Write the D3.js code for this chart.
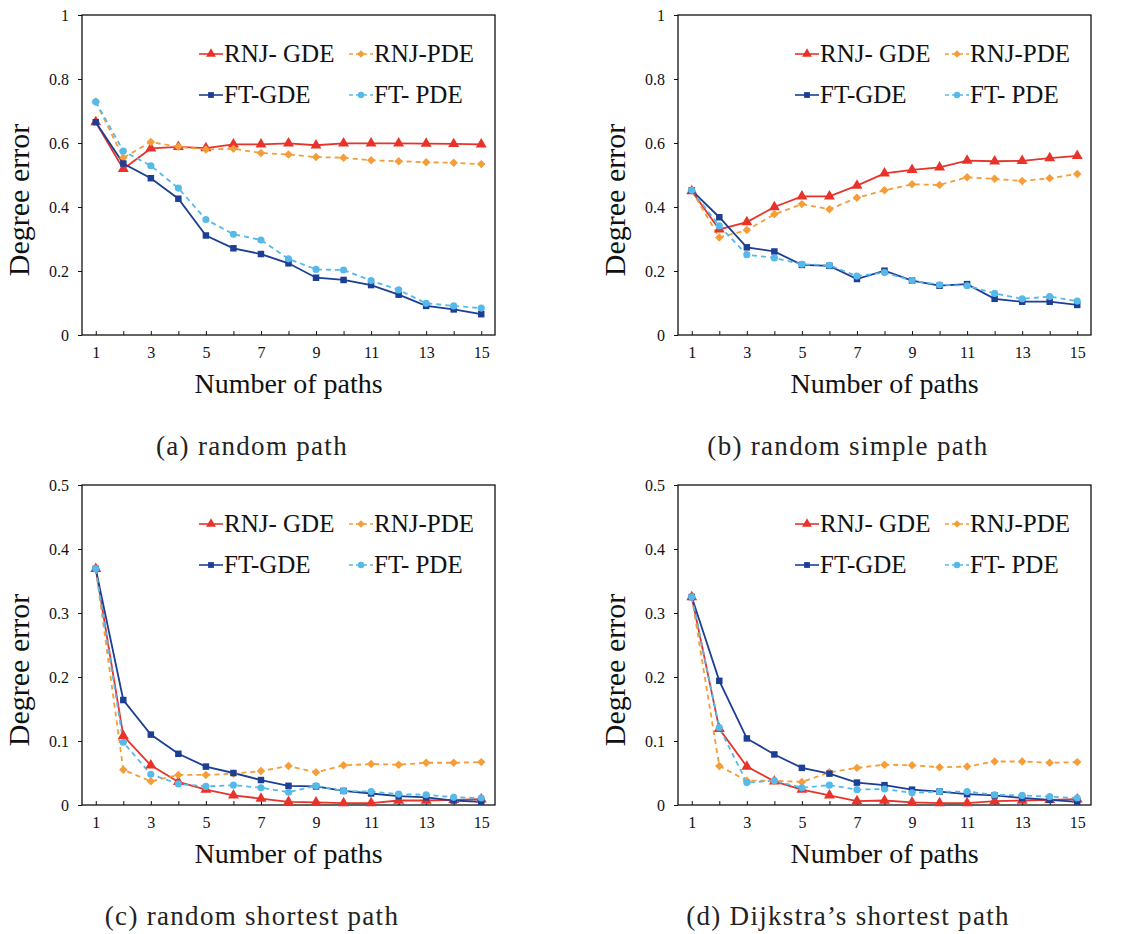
<html lang="en">
<head>
    <meta charset="utf-8">
    <title>Degree error vs number of paths</title>
    <script src="https://d3js.org/d3.v7.min.js"></script>
    <style>
        body {
            margin: 0;
            background: white;
        }

        svg {
            display: block;
        }

        svg text {
            font-family: "Liberation Serif", "Times New Roman", Times, "DejaVu Serif", serif !important;
        }

        .tick text {
            font-size: 16px;
            fill: #111;
        }
    </style>
</head>
<body>
    <div id="chart"></div>
    <script type="text/javascript">
        // number of paths (x axis)
        var paths = [1, 2, 3, 4, 5, 6, 7, 8, 9, 10, 11, 12, 13, 14, 15];
        var xTicks = [1, 3, 5, 7, 9, 11, 13, 15];

        var seriesNames = ["RNJ- GDE", "RNJ-PDE", "FT-GDE", "FT- PDE"];

        // (a) random path
        var aRnjGde = [0.665, 0.519, 0.583, 0.588, 0.584, 0.596, 0.596, 0.599, 0.593, 0.599, 0.599, 0.599, 0.598, 0.597, 0.596];
        var aRnjPde = [0.729, 0.554, 0.603, 0.588, 0.580, 0.582, 0.569, 0.564, 0.556, 0.554, 0.546, 0.543, 0.540, 0.538, 0.534];
        var aFtGde = [0.665, 0.536, 0.490, 0.426, 0.311, 0.271, 0.253, 0.224, 0.179, 0.172, 0.156, 0.126, 0.091, 0.080, 0.065];
        var aFtPde = [0.729, 0.575, 0.529, 0.459, 0.361, 0.315, 0.297, 0.238, 0.205, 0.203, 0.170, 0.141, 0.099, 0.091, 0.084];

        // (b) random simple path
        var bRnjGde = [0.450, 0.330, 0.353, 0.400, 0.433, 0.433, 0.467, 0.505, 0.516, 0.524, 0.545, 0.543, 0.544, 0.553, 0.560];
        var bRnjPde = [0.451, 0.305, 0.328, 0.377, 0.409, 0.393, 0.429, 0.452, 0.471, 0.469, 0.493, 0.488, 0.481, 0.490, 0.503];
        var bFtGde = [0.452, 0.368, 0.274, 0.261, 0.219, 0.216, 0.175, 0.201, 0.170, 0.154, 0.159, 0.113, 0.104, 0.104, 0.094];
        var bFtPde = [0.452, 0.341, 0.251, 0.241, 0.221, 0.218, 0.184, 0.195, 0.170, 0.157, 0.154, 0.130, 0.113, 0.120, 0.106];

        // (c) random shortest path
        var cRnjGde = [0.369, 0.108, 0.062, 0.036, 0.024, 0.015, 0.010, 0.005, 0.004, 0.003, 0.003, 0.007, 0.007, 0.008, 0.009];
        var cRnjPde = [0.369, 0.055, 0.037, 0.047, 0.047, 0.049, 0.053, 0.061, 0.051, 0.062, 0.064, 0.063, 0.066, 0.066, 0.067];
        var cFtGde = [0.369, 0.164, 0.110, 0.080, 0.060, 0.050, 0.039, 0.030, 0.029, 0.022, 0.018, 0.014, 0.012, 0.007, 0.005];
        var cFtPde = [0.369, 0.098, 0.048, 0.033, 0.029, 0.031, 0.027, 0.020, 0.030, 0.022, 0.021, 0.017, 0.016, 0.012, 0.011];

        // (d) Dijkstra's shortest path
        var dRnjGde = [0.325, 0.119, 0.060, 0.037, 0.024, 0.015, 0.006, 0.007, 0.004, 0.003, 0.003, 0.006, 0.007, 0.008, 0.009];
        var dRnjPde = [0.325, 0.061, 0.038, 0.038, 0.036, 0.051, 0.058, 0.063, 0.062, 0.059, 0.060, 0.068, 0.068, 0.066, 0.067];
        var dFtGde = [0.325, 0.194, 0.104, 0.079, 0.058, 0.049, 0.035, 0.031, 0.024, 0.021, 0.017, 0.015, 0.011, 0.008, 0.005];
        var dFtPde = [0.325, 0.121, 0.035, 0.038, 0.027, 0.031, 0.024, 0.025, 0.019, 0.021, 0.021, 0.016, 0.015, 0.013, 0.011];

        var topTicks = [0, 0.2, 0.4, 0.6, 0.8, 1];
        var bottomTicks = [0, 0.1, 0.2, 0.3, 0.4, 0.5];

        var captions = ["(a) random path", "(b) random simple path", "(c) random shortest path", "(d) Dijkstra\u2019s shortest path"];

        // styles (diamond = square turned 45 degrees)
        var colors = ["#e8332b", "#f59d38", "#1c3f95", "#55b9e9"];
        var dashes = [null, "5,4", null, "5,4"];
        var symbols = [d3.symbolTriangle, d3.symbolSquare, d3.symbolSquare, d3.symbolCircle];
        var symRotate = [0, 45, 0, 0];
        var symSizes = [52, 36, 42, 40];

        var width = 1140;
        var height = 934;

        var svg = d3.select("#chart").append("svg")
            .attr("width", width)
            .attr("height", height);

        var panels = [
            { left: 82, top: 15, ymax: 1, ticks: topTicks, data: [aRnjGde, aRnjPde, aFtGde, aFtPde], cap: captions[0], capX: 252, capY: 455 },
            { left: 678, top: 15, ymax: 1, ticks: topTicks, data: [bRnjGde, bRnjPde, bFtGde, bFtPde], cap: captions[1], capX: 848, capY: 455 },
            { left: 82, top: 485, ymax: 0.5, ticks: bottomTicks, data: [cRnjGde, cRnjPde, cFtGde, cFtPde], cap: captions[2], capX: 252, capY: 925 },
            { left: 678, top: 485, ymax: 0.5, ticks: bottomTicks, data: [dRnjGde, dRnjPde, dFtGde, dFtPde], cap: captions[3], capX: 848, capY: 925 }
        ];

        var pw = 413;
        var ph = 320;

        panels.forEach(draw_panel);

        function tickLabel(v) {
            if (v === 0) return "0";
            if (v === 1) return "1";
            return d3.format(".1f")(v);
        }

        function draw_panel(p) {
            var g = svg.append("g")
                .attr("transform", "translate(" + p.left + "," + p.top + ")");

            var xScale = d3.scaleLinear().domain([0.5, 15.5]).range([0, pw]);
            var yScale = d3.scaleLinear().domain([0, p.ymax]).range([ph, 0]);

            // y axis, ticks outside
            var yAxis = d3.axisLeft(yScale).tickValues(p.ticks).tickFormat(tickLabel)
                .tickSize(4).tickPadding(9);
            var ya = g.append("g").call(yAxis);
            ya.select(".domain").remove();
            ya.selectAll("line").attr("stroke", "#111");

            // x axis, ticks inward at every path count
            var xAxis = d3.axisBottom(xScale).tickValues(paths)
                .tickFormat(function(d) { return xTicks.indexOf(d) >= 0 ? d : ""; })
                .tickSize(-4).tickPadding(12);
            var xa = g.append("g").attr("transform", "translate(0," + ph + ")").call(xAxis);
            xa.select(".domain").remove();
            xa.selectAll("line").attr("stroke", "#111");
            xa.selectAll("text").attr("dy", "0.71em");

            // frame
            g.append("rect")
                .attr("x", 0).attr("y", 0)
                .attr("width", pw).attr("height", ph)
                .attr("fill", "none")
                .attr("stroke", "#111")
                .attr("stroke-width", 1.3);

            // series
            var line = d3.line()
                .x(function(d, i) { return xScale(paths[i]); })
                .y(function(d) { return yScale(d); });

            p.data.forEach(function(vals, k) {
                g.append("path")
                    .datum(vals)
                    .attr("d", line)
                    .attr("fill", "none")
                    .attr("stroke", colors[k])
                    .attr("stroke-width", 1.8)
                    .attr("stroke-dasharray", dashes[k]);
            });
            p.data.forEach(function(vals, k) {
                g.selectAll(".m" + k)
                    .data(vals)
                    .enter()
                    .append("path")
                    .attr("class", "m" + k)
                    .attr("transform", function(d, i) {
                        return "translate(" + xScale(paths[i]) + "," + yScale(d) + ") rotate(" + symRotate[k] + ")";
                    })
                    .attr("d", d3.symbol().type(symbols[k]).size(symSizes[k]))
                    .attr("fill", colors[k]);
            });

            // legend
            var legPos = [[117, 39], [267, 39], [117, 80], [267, 80]];
            seriesNames.forEach(function(name, k) {
                var lg = g.append("g")
                    .attr("transform", "translate(" + legPos[k][0] + "," + legPos[k][1] + ")");
                lg.append("line")
                    .attr("x1", 0).attr("x2", 24)
                    .attr("y1", 0).attr("y2", 0)
                    .attr("stroke", colors[k])
                    .attr("stroke-width", 1.6)
                    .attr("stroke-dasharray", dashes[k] ? "4,3" : null);
                lg.append("path")
                    .attr("transform", "translate(12,0) rotate(" + symRotate[k] + ")")
                    .attr("d", d3.symbol().type(symbols[k]).size(symSizes[k] * 0.8))
                    .attr("fill", colors[k]);
                lg.append("text")
                    .attr("x", 25)
                    .attr("y", 8)
                    .attr("font-size", "25px")
                    .attr("fill", "#111")
                    .text(name);
            });

            // axis titles
            g.append("text")
                .attr("x", pw / 2)
                .attr("y", ph + 58)
                .attr("text-anchor", "middle")
                .attr("font-size", "28px")
                .attr("fill", "#111")
                .text("Number of paths");

            g.append("text")
                .attr("transform", "translate(-53," + (ph / 2 + 25) + ") rotate(-90)")
                .attr("text-anchor", "middle")
                .attr("font-size", "30px")
                .attr("fill", "#111")
                .text("Degree error");

            // caption
            svg.append("text")
                .attr("x", p.capX)
                .attr("y", p.capY)
                .attr("text-anchor", "middle")
                .attr("font-size", "27px")
                .attr("letter-spacing", "1.3px")
                .attr("fill", "#222")
                .text(p.cap);
        }
    </script>
</body>
</html>
